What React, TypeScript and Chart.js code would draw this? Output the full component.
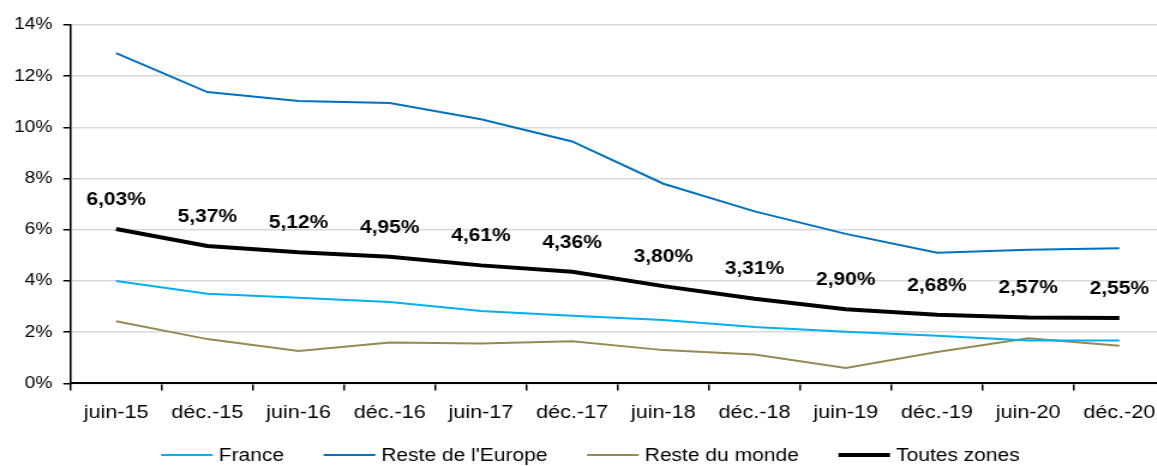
import React, { useEffect, useRef } from "react";
import { Chart, registerables } from "chart.js";

Chart.register(...registerables);

const categories = ["juin-15", "déc.-15", "juin-16", "déc.-16", "juin-17", "déc.-17", "juin-18", "déc.-18", "juin-19", "déc.-19", "juin-20", "déc.-20"];
const france = [4.0, 3.5, 3.35, 3.18, 2.83, 2.64, 2.48, 2.2, 2.02, 1.86, 1.68, 1.68];
const resteEurope = [12.9, 11.38, 11.03, 10.95, 10.32, 9.45, 7.8, 6.72, 5.84, 5.1, 5.22, 5.28];
const resteMonde = [2.43, 1.73, 1.27, 1.6, 1.56, 1.65, 1.3, 1.13, 0.6, 1.23, 1.76, 1.47];
const toutesZones = [6.03, 5.37, 5.12, 4.95, 4.61, 4.36, 3.8, 3.31, 2.9, 2.68, 2.57, 2.55];
const yTicks = [0, 2, 4, 6, 8, 10, 12, 14];

const FONT = "'Liberation Sans', Arial, sans-serif";
const SX = 1.2; // horizontal stretch of the whole picture
const CW = 975; // logical canvas width
const CH = 466;

const labelPlugin = {
  id: "zoneLabels",
  afterDatasetsDraw(chart: any) {
    const meta = chart.getDatasetMeta(3);
    const ctx = chart.ctx;
    ctx.save();
    ctx.font = `bold 17.5px ${FONT}`;
    ctx.fillStyle = "#000";
    ctx.textAlign = "center";
    ctx.textBaseline = "middle";
    meta.data.forEach((pt: any, i: number) => {
      const txt = toutesZones[i].toFixed(2).replace(".", ",") + "%";
      ctx.fillText(txt, pt.x, pt.y - 29);
    });
    ctx.restore();
  },
};

const legendPlugin = {
  id: "bottomLegend",
  afterDraw(chart: any) {
    const ctx = chart.ctx;
    const ds = chart.data.datasets;
    ctx.save();
    ctx.font = `17.5px ${FONT}`;
    ctx.textBaseline = "middle";
    ctx.textAlign = "left";
    const lineW = 43;
    const gap = 5;
    const spacing = 33;
    const widths = ds.map((d: any) => lineW + gap + ctx.measureText(d.label).width);
    const total = widths.reduce((a: number, b: number) => a + b, 0) + spacing * (ds.length - 1);
    let x = 492 - total / 2;
    const y = 455;
    ds.forEach((d: any, i: number) => {
      ctx.strokeStyle = d.borderColor;
      ctx.lineWidth = d.borderWidth;
      ctx.beginPath();
      ctx.moveTo(x, y);
      ctx.lineTo(x + lineW, y);
      ctx.stroke();
      ctx.fillStyle = "#000";
      ctx.fillText(d.label, x + lineW + gap, y + 1);
      x += widths[i] + spacing;
    });
    ctx.restore();
  },
};

export default function App() {
  const ref = useRef<HTMLCanvasElement>(null);
  useEffect(() => {
    document.body.style.margin = "0";
    const chart = new Chart(ref.current!, {
      type: "line",
      data: {
        labels: categories,
        datasets: [
          { label: "France", data: france, borderColor: "#00B0F0", backgroundColor: "#00B0F0", borderWidth: 2, pointRadius: 0, tension: 0 },
          { label: "Reste de l'Europe", data: resteEurope, borderColor: "#0070C0", backgroundColor: "#0070C0", borderWidth: 2, pointRadius: 0, tension: 0 },
          { label: "Reste du monde", data: resteMonde, borderColor: "#948A54", backgroundColor: "#948A54", borderWidth: 2, pointRadius: 0, tension: 0 },
          { label: "Toutes zones", data: toutesZones, borderColor: "#000000", backgroundColor: "#000000", borderWidth: 4, pointRadius: 0, tension: 0 },
        ],
      },
      options: {
        responsive: false,
        animation: false,
        layout: { padding: { top: 25, right: 4, left: 2.7, bottom: 30 } },
        plugins: {
          tooltip: { enabled: false },
          legend: { display: false },
        },
        scales: {
          x: {
            offset: true,
            grid: { offset: true, drawOnChartArea: false, color: "#000", tickLength: 7, lineWidth: 1.5 },
            border: { color: "#000", width: 2 },
            ticks: { color: "#000", font: { family: FONT, size: 18 }, padding: 12, maxRotation: 0, autoSkip: false },
          },
          y: {
            min: 0,
            max: 14,
            afterBuildTicks: (axis: any) => {
              axis.ticks = yTicks.map((v) => ({ value: v }));
            },
            grid: { color: "#D9D9D9", lineWidth: 1.5, tickColor: "#000", tickLength: 6, tickWidth: 1.5 },
            border: { color: "#000", width: 1.6 },
            ticks: { color: "#000", font: { family: FONT, size: 16 }, padding: 9, callback: (v: any) => v + "%" },
          },
        },
      },
      plugins: [labelPlugin, legendPlugin],
    });
    return () => chart.destroy();
  }, []);
  return (
    <div style={{ position: "absolute", left: 0, top: 0, width: 1157, height: CH, overflow: "hidden", background: "#fff" }}>
      <canvas
        ref={ref}
        width={CW}
        height={CH}
        style={{ display: "block", width: CW, height: CH, transform: `scaleX(${SX})`, transformOrigin: "0 0" }}
      />
    </div>
  );
}
